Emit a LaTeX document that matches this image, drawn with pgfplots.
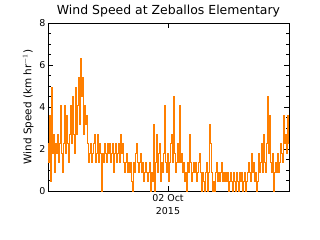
\documentclass[border=0pt]{standalone}
\usepackage{pgfplots}
\pgfplotsset{compat=1.18}
\usepackage{fontspec}
\setmainfont{DejaVu Sans}
\definecolor{windorange}{RGB}{255,127,0}
\pgfplotstableread{
x y
48 2.25
49 1.35
50 3.6
51 0.45
52 4.95
53 1.8
54 2.7
55 0.9
56 2.25
57 1.8
58 2.7
59 1.35
60 2.25
61 4.05
62 1.8
63 0.9
64 2.25
65 4.05
66 1.8
67 3.6
68 2.25
69 1.35
70 2.7
71 4.05
72 2.25
73 4.5
74 2.7
75 1.8
76 4.95
77 2.7
78 4.05
79 5.4
80 3.15
81 6.3
82 4.5
83 5.4
84 2.7
85 4.05
86 3.15
87 3.6
88 2.25
89 1.35
90 1.8
91 2.25
92 1.35
93 1.8
94 2.25
95 2.7
96 1.35
97 1.8
98 2.7
99 1.35
100 2.25
101 1.8
102 0
103 1.8
104 1.35
105 2.25
106 1.8
107 1.35
108 2.25
109 1.8
110 2.25
111 1.35
112 1.8
113 2.25
114 0.9
115 1.8
116 2.25
117 1.35
118 1.8
119 2.25
120 1.35
121 2.7
122 1.8
123 2.25
124 1.35
125 0.9
126 1.35
127 1.8
128 0.9
129 1.35
130 0.9
131 1.35
132 0.45
133 0
134 1.35
135 0.9
136 1.8
137 2.25
138 1.35
139 0.9
140 1.35
141 1.8
142 0.9
143 1.35
144 0.45
145 0.9
146 1.35
147 0.9
148 0.45
149 0.9
150 1.35
151 0
152 0.9
153 0.45
154 3.15
155 0
156 1.35
157 2.7
158 0.9
159 1.8
160 2.25
161 0.45
162 1.35
163 0.9
164 1.8
165 4.05
166 1.35
167 0.9
168 1.8
169 0.45
170 1.35
171 2.25
172 2.7
173 1.35
174 4.5
175 1.8
176 0.9
177 1.35
178 2.25
179 1.35
180 4.05
181 1.35
182 1.8
183 0.9
184 1.35
185 0.45
186 0.9
187 0
188 1.35
189 0.9
190 2.7
191 1.35
192 0.45
193 0.9
194 1.35
195 0.9
196 1.35
197 0.45
198 0.9
199 1.35
200 1.8
201 0.9
202 0
203 0.9
204 0.45
205 0
206 0.9
207 1.35
208 0
209 0.9
210 3.15
211 2.25
212 0.9
213 0
214 0.45
215 0
216 0.9
217 1.35
218 0.45
219 0.9
220 0.45
221 0.9
222 1.35
223 0.45
224 0.9
225 0.45
226 0.9
227 0.45
228 0.9
229 0
230 0.45
231 0.9
232 0.45
233 0
234 0.9
235 0.45
236 0
237 0.9
238 0.45
239 0
240 0.9
241 0.45
242 0.9
243 0
244 0.45
245 0.9
246 0
247 0.45
248 0.9
249 1.35
250 0.9
251 0.45
252 1.8
253 0.9
254 1.35
255 0.45
256 0.9
257 0
258 0.45
259 1.8
260 0.9
261 1.35
262 2.25
263 0.9
264 2.7
265 1.35
266 0.9
267 2.25
268 4.5
269 1.8
270 3.6
271 1.35
272 0.9
273 1.8
274 0
275 0.9
276 1.35
277 0.9
278 1.8
279 0.9
280 1.35
281 2.25
282 1.8
283 1.35
284 3.6
285 2.25
286 2.7
287 1.8
288 3.6
289 2.25
}\winddata
\begin{document}
\begin{tikzpicture}
\useasboundingbox (-48bp,-49bp) rectangle (272bp,191bp);
\begin{axis}[
  scale only axis,
  width=241bp, height=168bp,
  at={(0,0)}, anchor=south west,
  xmin=48, xmax=289, ymin=0, ymax=8,
  axis line style={line width=0.9pt},
  tick style={black, line width=0.8pt},
  tick align=inside,
  major tick length=5bp, minor tick length=3bp,
  ytick={0,2,4,6,8},
  minor y tick num=3,
  xtick={168},
  xticklabels={{02 Oct\\2015}},
  xticklabel style={align=center, font=\fontsize{9.5}{13}\selectfont},
  yticklabel style={font=\fontsize{9.5}{11}\selectfont, xshift=1bp},
  /pgf/number format/assume math mode=true,
  ylabel={Wind Speed (km hr$^{-1}$)},
  ylabel style={font=\fontsize{10.5}{11}\selectfont, yshift=-1bp},
  title={Wind Speed at Zeballos Elementary},
  title style={font=\fontsize{12.5}{14}\selectfont, yshift=-4bp},
  clip=true,
]
\addplot[windorange, line width=1pt, mark=none, const plot mark mid] table[x=x,y=y] {\winddata};
\end{axis}
\end{tikzpicture}
\end{document}
